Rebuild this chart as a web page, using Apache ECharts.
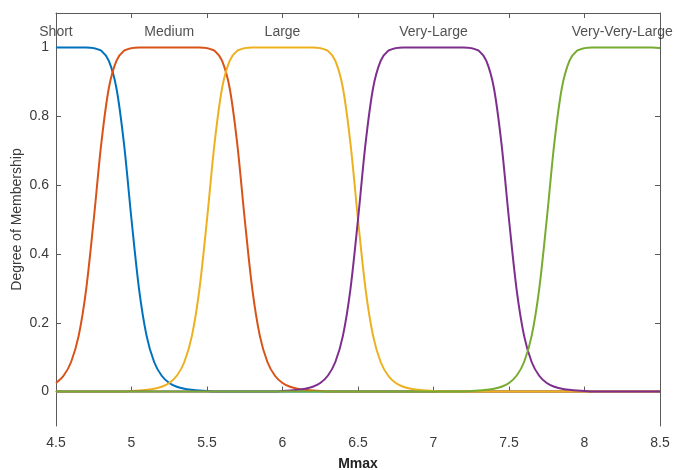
<!DOCTYPE html>
<html>
<head>
<meta charset="utf-8">
<style>
  html, body { margin: 0; padding: 0; background: #ffffff; }
  #chart { width: 677px; height: 470px; }
</style>
<script src="https://cdn.jsdelivr.net/npm/echarts@6.0.0/dist/echarts.min.js"></script>
</head>
<body>
<div id="chart"></div>
<script>
// Sample positions along Mmax
const xGrid = [
  4.5, 4.55, 4.6, 4.65, 4.7, 4.75, 4.8, 4.85, 4.9, 4.95,
  5.0, 5.05, 5.1, 5.15, 5.2, 5.25, 5.3, 5.35, 5.4, 5.45,
  5.5, 5.55, 5.6, 5.65, 5.7, 5.75, 5.8, 5.85, 5.9, 5.95,
  6.0, 6.05, 6.1, 6.15, 6.2, 6.25, 6.3, 6.35, 6.4, 6.45,
  6.5, 6.55, 6.6, 6.65, 6.7, 6.75, 6.8, 6.85, 6.9, 6.95,
  7.0, 7.05, 7.1, 7.15, 7.2, 7.25, 7.3, 7.35, 7.4, 7.45,
  7.5, 7.55, 7.6, 7.65, 7.7, 7.75, 7.8, 7.85, 7.9, 7.95,
  8.0, 8.05, 8.1, 8.15, 8.2, 8.25, 8.3, 8.35, 8.4, 8.45,
  8.5
];

// Membership degrees
const shortMF = [
  1, 1, 1, 1, 1, 0.998, 0.990, 0.961, 0.882, 0.721,
  0.5, 0.298, 0.162, 0.086, 0.046, 0.025, 0.014, 0.008, 0.005, 0.003,
  0.002, 0, 0, 0, 0, 0, 0, 0, 0, 0,
  0, 0, 0, 0, 0, 0, 0, 0, 0, 0,
  0, 0, 0, 0, 0, 0, 0, 0, 0, 0,
  0, 0, 0, 0, 0, 0, 0, 0, 0, 0,
  0, 0, 0, 0, 0, 0, 0, 0, 0, 0,
  0, 0, 0, 0, 0, 0, 0, 0, 0, 0,
  0
];
const mediumMF = [
  0.025, 0.046, 0.086, 0.162, 0.298, 0.5, 0.721, 0.882, 0.961, 0.990,
  0.998, 1, 1, 1, 1, 1, 1, 1, 1, 1,
  0.998, 0.990, 0.961, 0.882, 0.721, 0.5, 0.298, 0.162, 0.086, 0.046,
  0.025, 0.014, 0.008, 0.005, 0.003, 0.002, 0, 0, 0, 0,
  0, 0, 0, 0, 0, 0, 0, 0, 0, 0,
  0, 0, 0, 0, 0, 0, 0, 0, 0, 0,
  0, 0, 0, 0, 0, 0, 0, 0, 0, 0,
  0, 0, 0, 0, 0, 0, 0, 0, 0, 0,
  0
];
const largeMF = [
  0, 0, 0, 0, 0, 0, 0, 0, 0, 0,
  0.002, 0.003, 0.005, 0.008, 0.014, 0.025, 0.046, 0.086, 0.162, 0.298,
  0.5, 0.721, 0.882, 0.961, 0.990, 0.998, 1, 1, 1, 1,
  1, 1, 1, 1, 1, 0.998, 0.990, 0.961, 0.882, 0.721,
  0.5, 0.298, 0.162, 0.086, 0.046, 0.025, 0.014, 0.008, 0.005, 0.003,
  0.002, 0, 0, 0, 0, 0, 0, 0, 0, 0,
  0, 0, 0, 0, 0, 0, 0, 0, 0, 0,
  0, 0, 0, 0, 0, 0, 0, 0, 0, 0,
  0
];
const veryLargeMF = [
  0, 0, 0, 0, 0, 0, 0, 0, 0, 0,
  0, 0, 0, 0, 0, 0, 0, 0, 0, 0,
  0, 0, 0, 0, 0, 0, 0, 0, 0, 0,
  0.002, 0.003, 0.005, 0.008, 0.014, 0.025, 0.046, 0.086, 0.162, 0.298,
  0.5, 0.721, 0.882, 0.961, 0.990, 0.998, 1, 1, 1, 1,
  1, 1, 1, 1, 1, 0.998, 0.990, 0.961, 0.882, 0.721,
  0.5, 0.298, 0.162, 0.086, 0.046, 0.025, 0.014, 0.008, 0.005, 0.003,
  0.002, 0, 0, 0, 0, 0, 0, 0, 0, 0,
  0
];
const veryVeryLargeMF = [
  0, 0, 0, 0, 0, 0, 0, 0, 0, 0,
  0, 0, 0, 0, 0, 0, 0, 0, 0, 0,
  0, 0, 0, 0, 0, 0, 0, 0, 0, 0,
  0, 0, 0, 0, 0, 0, 0, 0, 0, 0,
  0, 0, 0, 0, 0, 0, 0, 0, 0, 0,
  0, 0, 0, 0, 0, 0.002, 0.003, 0.005, 0.008, 0.014,
  0.025, 0.046, 0.086, 0.162, 0.298, 0.5, 0.721, 0.882, 0.961, 0.990,
  0.998, 1, 1, 1, 1, 1, 1, 1, 1, 1,
  0.998
];

// Membership function names and their label positions (centres)
const mfNames = ['Short', 'Medium', 'Large', 'Very-Large', 'Very-Very-Large'];
const mfCenters = [4.5, 5.25, 6.0, 7.0, 8.25];
const nameLevel = 1.045;

// Axis ticks
const yTickValues = [0, 0.2, 0.4, 0.6, 0.8, 1];
const xTickInterval = 0.5;

const colors = ['#0072BD', '#D95319', '#EDB120', '#7E2F8E', '#77AC30'];
const mfSeries = [shortMF, mediumMF, largeMF, veryLargeMF, veryVeryLargeMF];

const axisColor = '#5a5a5a';
const textColor = '#3a3a3a';
const font = 'Liberation Sans, Arial, Helvetica, sans-serif';

const chart = echarts.init(document.getElementById('chart'), null, { renderer: 'canvas' });

const lineSeries = mfSeries.map((ys, k) => ({
  name: mfNames[k],
  type: 'line',
  xAxisIndex: 0,
  yAxisIndex: 0,
  data: xGrid.map((x, i) => [x, ys[i]]),
  showSymbol: false,
  smooth: 0.3,
  lineStyle: { color: colors[k], width: 2 },
  itemStyle: { color: colors[k] },
  z: 2 + k
}));

const labelSeries = {
  type: 'scatter',
  xAxisIndex: 0,
  yAxisIndex: 0,
  symbolSize: 0,
  clip: false,
  silent: true,
  z: 20,
  data: mfNames.map((n, k) => ({ value: [mfCenters[k], nameLevel], name: n })),
  label: {
    show: true,
    position: 'inside',
    formatter: p => p.name,
    color: '#262626',
    fontSize: 14,
    fontFamily: font,
    align: 'center',
    verticalAlign: 'middle'
  }
};

const option = {
  animation: false,
  backgroundColor: '#ffffff',
  grid: { left: 56, right: 17, top: 13, bottom: 44, containLabel: false, outerBoundsMode: 'none' },
  xAxis: [
    {
      type: 'value',
      position: 'bottom',
      min: 4.5,
      max: 8.5,
      interval: xTickInterval,
      name: 'Mmax',
      nameLocation: 'middle',
      nameGap: 31,
      nameMoveOverlap: false,
      nameTextStyle: { color: '#222', fontSize: 14, fontWeight: 'bold', fontFamily: font },
      axisLine: { show: true, lineStyle: { color: axisColor, width: 1 } },
      axisTick: { show: true, inside: true, length: 5, lineStyle: { color: axisColor } },
      axisLabel: { color: textColor, fontSize: 14, fontFamily: font, margin: 10 },
      splitLine: { show: false }
    },
    {
      type: 'value',
      position: 'top',
      min: 4.5,
      max: 8.5,
      interval: xTickInterval,
      axisLine: { show: true, onZero: false, lineStyle: { color: axisColor, width: 1 } },
      axisTick: { show: true, inside: true, length: 5, lineStyle: { color: axisColor } },
      axisLabel: { show: false },
      splitLine: { show: false }
    }
  ],
  yAxis: [
    {
      type: 'value',
      position: 'left',
      min: -0.1,
      max: 1.1,
      name: 'Degree of Membership',
      nameLocation: 'middle',
      nameGap: 32,
      nameMoveOverlap: false,
      nameRotate: 90,
      nameTextStyle: { color: textColor, fontSize: 14, fontFamily: font },
      axisLine: { show: true, onZero: false, lineStyle: { color: axisColor, width: 1 } },
      axisTick: { show: true, inside: true, length: 5, customValues: yTickValues, lineStyle: { color: axisColor } },
      axisLabel: { color: textColor, fontSize: 14, fontFamily: font, margin: 7, customValues: yTickValues,
        formatter: v => String(Math.round(v * 10) / 10) },
      splitLine: { show: false }
    },
    {
      type: 'value',
      position: 'right',
      min: -0.1,
      max: 1.1,
      axisLine: { show: true, onZero: false, lineStyle: { color: axisColor, width: 1 } },
      axisTick: { show: true, inside: true, length: 5, customValues: yTickValues, lineStyle: { color: axisColor } },
      axisLabel: { show: false },
      splitLine: { show: false }
    }
  ],
  series: lineSeries.concat([labelSeries])
};

chart.setOption(option);
</script>
</body>
</html>
